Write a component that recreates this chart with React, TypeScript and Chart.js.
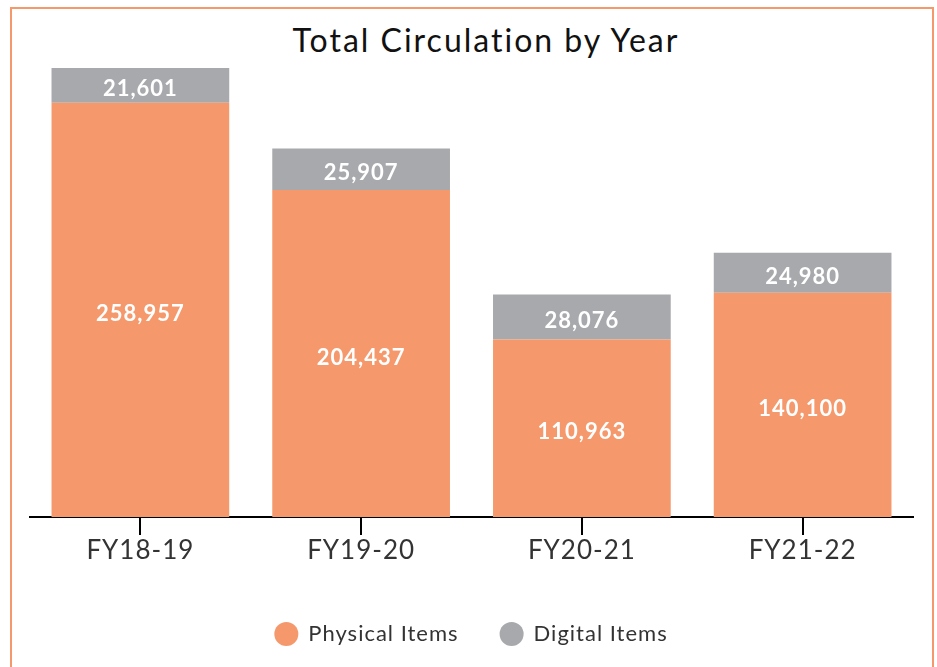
import React, { useEffect, useRef } from 'react';
import { Chart, registerables } from 'chart.js';

Chart.register(...registerables);

const categories = ['FY18-19', 'FY19-20', 'FY20-21', 'FY21-22'];
const physicalItems = [258957, 204437, 110963, 140100];
const digitalItems = [21601, 25907, 28076, 24980];
const seriesNames = ['Physical Items', 'Digital Items'];
const titleText = 'Total Circulation by Year';
const yMax = 300000;

const ORANGE = '#F5996D';
const GRAY = '#A7A9AC';

const spacing = {
  id: 'spacing',
  beforeUpdate(chart: any) {
    (chart.ctx as any).letterSpacing = '1px';
  },
  beforeDraw(chart: any) {
    (chart.ctx as any).letterSpacing = '1px';
  },
};

const barLabels = {
  id: 'barLabels',
  afterDatasetsDraw(chart: any) {
    const ctx = chart.ctx;
    ctx.save();
    ctx.font = 'bold 22px Lato';
    ctx.fillStyle = '#ffffff';
    ctx.textAlign = 'center';
    ctx.textBaseline = 'middle';
    chart.data.datasets.forEach((ds: any, di: number) => {
      const meta = chart.getDatasetMeta(di);
      meta.data.forEach((bar: any, i: number) => {
        const { x, y, base } = bar.getProps(['x', 'y', 'base'], true);
        const v = ds.data[i] as number;
        ctx.fillText(v.toLocaleString('en-US'), x, (y + base) / 2 + 4);
      });
    });
    ctx.restore();
  },
};

export default function App() {
  const canvasRef = useRef<HTMLCanvasElement | null>(null);

  useEffect(() => {
    if (!canvasRef.current) return;
    Chart.defaults.font.family = 'Lato';
    const chart = new Chart(canvasRef.current, {
      type: 'bar',
      data: {
        labels: categories,
        datasets: [
          { label: seriesNames[0], data: physicalItems, backgroundColor: ORANGE, borderWidth: 0 },
          { label: seriesNames[1], data: digitalItems, backgroundColor: GRAY, borderWidth: 0 },
        ],
      },
      options: {
        animation: false,
        responsive: true,
        maintainAspectRatio: false,
        datasets: { bar: { categoryPercentage: 1, barPercentage: 0.805 } },
        layout: { padding: { left: 30, right: 24, top: 37, bottom: 12 } },
        plugins: {
          title: { display: false },
          tooltip: { enabled: false },
          legend: {
            position: 'bottom',
            labels: {
              usePointStyle: true,
              pointStyle: 'circle',
              boxWidth: 24,
              boxHeight: 17,
              padding: 42,
              color: '#333333',
              font: { family: 'Lato', size: 22 },
            },
          },
        },
        scales: {
          x: {
            stacked: true,
            grid: {
              display: true,
              drawOnChartArea: false,
              drawTicks: true,
              tickLength: 18,
              color: '#000000',
              lineWidth: 2,
              offset: false,
            },
            border: { display: true, color: '#000000', width: 2 },
            ticks: { color: '#333333', font: { family: 'Lato', size: 26 }, padding: 0 },
            afterFit: (s: any) => {
              s.height = 64;
            },
          },
          y: { stacked: true, display: false, min: 0, max: yMax },
        },
      },
      plugins: [spacing, barLabels],
    } as any);
    return () => chart.destroy();
  }, []);

  return (
    <div style={{ position: 'absolute', left: 0, top: 0, width: 937, height: 667, overflow: 'hidden' }}>
      <div
        style={{
          position: 'absolute',
          left: 10,
          top: 7,
          width: 924,
          height: 660,
          borderTop: '2px solid #F5996D',
          borderLeft: '2px solid #F5996D',
          borderRight: '2px solid #F5996D',
          boxSizing: 'border-box',
        }}
      />
      <div
        style={{
          position: 'absolute',
          left: 0,
          top: 25,
          width: 972,
          textAlign: 'center',
          fontFamily: 'Lato',
          fontSize: 32,
          letterSpacing: '2px',
          lineHeight: '30px',
          color: '#111111',
          whiteSpace: 'nowrap',
        }}
      >
        {titleText}
      </div>
      <div style={{ position: 'absolute', left: 0, top: 0, width: 937, height: 667 }}>
        <canvas ref={canvasRef} />
      </div>
    </div>
  );
}
